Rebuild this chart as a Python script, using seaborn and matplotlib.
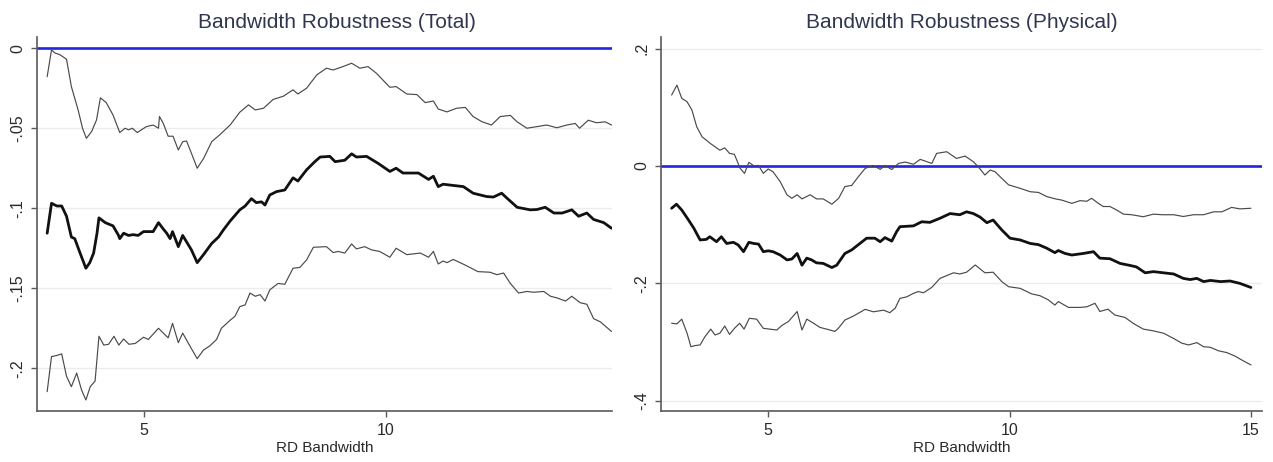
import matplotlib
matplotlib.use("Agg")
import matplotlib.pyplot as plt
import seaborn as sns
import pandas as pd

# ---------------- data ----------------
# Left panel: Total
tot_up_x = [3.0, 3.09, 3.16, 3.26, 3.4, 3.5, 3.64, 3.73, 3.81, 3.92, 4.02, 4.1, 4.22, 4.36, 4.5, 4.61, 4.68,
            4.76, 4.86, 5.05, 5.19, 5.3, 5.32, 5.4, 5.5, 5.6, 5.71, 5.8, 5.88, 5.98, 6.1, 6.23, 6.4, 6.57,
            6.78, 6.98, 7.16, 7.3, 7.47, 7.67, 7.88, 8.08, 8.18, 8.36, 8.57, 8.77, 8.91, 9.11, 9.29, 9.46,
            9.63, 9.8, 10.08, 10.21, 10.43, 10.64, 10.81, 10.98, 11.08, 11.26, 11.46, 11.64, 11.8, 11.98,
            12.18, 12.36, 12.57, 12.71, 12.91, 13.12, 13.32, 13.53, 13.74, 13.91, 14.0, 14.18, 14.35, 14.53,
            14.66]
tot_up_y = [-0.0178, -0.001, -0.003, -0.004, -0.0069, -0.024, -0.0386, -0.050, -0.0563, -0.052, -0.0448,
            -0.031, -0.034, -0.0417, -0.0527, -0.050, -0.051, -0.050, -0.0527, -0.049, -0.048, -0.050,
            -0.0427, -0.047, -0.055, -0.055, -0.0636, -0.0584, -0.058, -0.0656, -0.075, -0.069, -0.0584,
            -0.054, -0.048, -0.040, -0.0354, -0.0386, -0.0375, -0.032, -0.030, -0.026, -0.0286, -0.025,
            -0.0167, -0.0125, -0.0136, -0.0115, -0.0094, -0.0125, -0.0115, -0.0156, -0.0244, -0.024,
            -0.0286, -0.029, -0.034, -0.033, -0.038, -0.0398, -0.0375, -0.037, -0.0427, -0.0459, -0.048,
            -0.0427, -0.042, -0.046, -0.050, -0.049, -0.048, -0.0497, -0.048, -0.047, -0.050, -0.045,
            -0.0466, -0.046, -0.048]

tot_est_x = [3.0, 3.09, 3.2, 3.3, 3.4, 3.5, 3.57, 3.68, 3.8, 3.88, 3.96, 4.03, 4.07, 4.2, 4.36, 4.47, 4.5,
             4.58, 4.68, 4.78, 4.88, 4.99, 5.19, 5.3, 5.4, 5.47, 5.54, 5.59, 5.71, 5.8, 5.88, 5.98, 6.1,
             6.23, 6.4, 6.54, 6.64, 6.78, 6.98, 7.09, 7.22, 7.32, 7.43, 7.5, 7.6, 7.74, 7.91, 8.08, 8.18,
             8.36, 8.53, 8.64, 8.84, 8.95, 9.15, 9.29, 9.39, 9.6, 9.84, 10.08, 10.21, 10.35, 10.57, 10.67,
             10.88, 10.98, 11.08, 11.18, 11.32, 11.6, 11.8, 12.08, 12.22, 12.39, 12.5, 12.71, 12.98, 13.12,
             13.29, 13.47, 13.64, 13.84, 13.98, 14.15, 14.29, 14.5, 14.66]
tot_est_y = [-0.1156, -0.0969, -0.0986, -0.0986, -0.105, -0.118, -0.119, -0.128, -0.1375, -0.134, -0.128,
             -0.1156, -0.106, -0.109, -0.111, -0.1167, -0.119, -0.1156, -0.117, -0.1165, -0.117, -0.1146,
             -0.1146, -0.109, -0.113, -0.1156, -0.119, -0.1146, -0.124, -0.117, -0.121, -0.126, -0.134,
             -0.129, -0.122, -0.118, -0.1136, -0.108, -0.101, -0.0986, -0.094, -0.0965, -0.096, -0.098,
             -0.0917, -0.0896, -0.0886, -0.081, -0.083, -0.076, -0.0709, -0.068, -0.0676, -0.0709, -0.070,
             -0.066, -0.068, -0.0676, -0.072, -0.077, -0.075, -0.078, -0.078, -0.078, -0.082, -0.080,
             -0.0865, -0.085, -0.0855, -0.0865, -0.0906, -0.0927, -0.093, -0.0906, -0.0937, -0.0994,
             -0.101, -0.1008, -0.0994, -0.103, -0.103, -0.101, -0.105, -0.103, -0.107, -0.109, -0.1125]

tot_lo_x = [3.0, 3.09, 3.2, 3.3, 3.4, 3.5, 3.61, 3.71, 3.8, 3.89, 3.99, 4.07, 4.17, 4.27, 4.38, 4.48, 4.58,
            4.69, 4.82, 4.99, 5.09, 5.3, 5.5, 5.59, 5.71, 5.8, 5.91, 6.1, 6.23, 6.36, 6.5, 6.6, 6.78, 6.88,
            6.98, 7.09, 7.19, 7.3, 7.4, 7.5, 7.6, 7.77, 7.91, 8.08, 8.22, 8.36, 8.5, 8.77, 8.91, 9.01, 9.15,
            9.29, 9.39, 9.56, 9.7, 9.87, 10.08, 10.21, 10.43, 10.71, 10.88, 10.98, 11.08, 11.18, 11.26,
            11.39, 11.63, 11.9, 12.15, 12.29, 12.43, 12.57, 12.74, 12.91, 13.05, 13.26, 13.4, 13.53, 13.71,
            13.84, 14.01, 14.15, 14.29, 14.43, 14.66]
tot_lo_y = [-0.2146, -0.1927, -0.192, -0.191, -0.205, -0.2115, -0.203, -0.2135, -0.2198, -0.2115, -0.208,
            -0.180, -0.1855, -0.185, -0.180, -0.1855, -0.1817, -0.185, -0.1845, -0.1806, -0.182, -0.175,
            -0.181, -0.1719, -0.184, -0.178, -0.184, -0.194, -0.1886, -0.186, -0.182, -0.175, -0.170,
            -0.1675, -0.1615, -0.1604, -0.153, -0.155, -0.154, -0.158, -0.151, -0.147, -0.1475, -0.1375,
            -0.137, -0.1323, -0.1244, -0.124, -0.1277, -0.127, -0.128, -0.1223, -0.1254, -0.124, -0.126,
            -0.127, -0.1306, -0.125, -0.129, -0.128, -0.1306, -0.127, -0.1348, -0.133, -0.134, -0.132,
            -0.1354, -0.1396, -0.140, -0.1415, -0.1405, -0.147, -0.153, -0.152, -0.1525, -0.152, -0.155,
            -0.156, -0.158, -0.155, -0.159, -0.160, -0.169, -0.171, -0.177]

# Right panel: Physical
phy_up_x = [3.0, 3.11, 3.21, 3.32, 3.42, 3.52, 3.63, 3.8, 4.0, 4.1, 4.2, 4.3, 4.42, 4.51, 4.6, 4.7, 4.8,
            4.9, 5.0, 5.1, 5.25, 5.39, 5.49, 5.6, 5.7, 5.87, 6.0, 6.14, 6.32, 6.46, 6.59, 6.73, 6.87, 7.01,
            7.18, 7.32, 7.42, 7.56, 7.7, 7.84, 8.01, 8.15, 8.39, 8.49, 8.7, 8.9, 9.08, 9.25, 9.35, 9.49,
            9.6, 9.7, 9.84, 9.98, 10.22, 10.43, 10.6, 10.77, 10.95, 11.08, 11.29, 11.46, 11.6, 11.7, 11.84,
            11.94, 12.08, 12.22, 12.36, 12.53, 12.77, 12.98, 13.16, 13.4, 13.6, 13.81, 14.02, 14.23, 14.4,
            14.6, 14.77, 15.0]
phy_up_y = [0.121, 0.138, 0.1154, 0.1096, 0.0955, 0.067, 0.050, 0.0386, 0.027, 0.031, 0.0216, 0.020,
            -0.004, -0.0125, 0.0063, 0.0006, 0.001, -0.0125, -0.005, -0.0097, -0.0267, -0.049, -0.055,
            -0.049, -0.056, -0.049, -0.056, -0.056, -0.065, -0.055, -0.035, -0.033, -0.018, -0.004, 0.001,
            -0.0057, 0.001, -0.006, 0.0045, 0.0068, 0.003, 0.0114, 0.0045, 0.0216, 0.0244, 0.013, 0.017,
            0.0074, -0.001, -0.0153, -0.0068, -0.0097, -0.021, -0.032, -0.038, -0.0438, -0.045, -0.052,
            -0.056, -0.058, -0.0636, -0.059, -0.060, -0.055, -0.0636, -0.069, -0.069, -0.075, -0.082,
            -0.083, -0.0864, -0.082, -0.083, -0.083, -0.086, -0.083, -0.083, -0.078, -0.078, -0.0705,
            -0.073, -0.072]

phy_est_x = [3.0, 3.1, 3.21, 3.35, 3.46, 3.59, 3.72, 3.79, 3.93, 4.03, 4.14, 4.28, 4.38, 4.49, 4.6, 4.7,
             4.8, 4.9, 5.0, 5.1, 5.25, 5.39, 5.49, 5.6, 5.7, 5.8, 5.9, 6.0, 6.14, 6.32, 6.42, 6.59, 6.73,
             6.9, 7.04, 7.21, 7.32, 7.42, 7.56, 7.66, 7.73, 8.01, 8.18, 8.35, 8.56, 8.77, 8.97, 9.11, 9.25,
             9.39, 9.53, 9.66, 9.84, 10.01, 10.22, 10.43, 10.6, 10.77, 10.94, 11.01, 11.15, 11.29, 11.53,
             11.74, 11.87, 12.08, 12.29, 12.5, 12.63, 12.81, 12.98, 13.19, 13.4, 13.6, 13.74, 13.88, 14.02,
             14.16, 14.37, 14.57, 14.77, 15.0]
phy_est_y = [-0.072, -0.065, -0.075, -0.092, -0.106, -0.126, -0.125, -0.1205, -0.129, -0.1205, -0.132,
             -0.130, -0.1346, -0.146, -0.130, -0.132, -0.133, -0.146, -0.1445, -0.146, -0.1517, -0.160,
             -0.1585, -0.149, -0.169, -0.157, -0.160, -0.165, -0.166, -0.173, -0.169, -0.149, -0.143,
             -0.132, -0.123, -0.123, -0.129, -0.122, -0.128, -0.112, -0.1034, -0.102, -0.095, -0.096,
             -0.089, -0.081, -0.083, -0.078, -0.081, -0.087, -0.0966, -0.092, -0.109, -0.123, -0.126,
             -0.132, -0.134, -0.140, -0.1477, -0.144, -0.149, -0.1517, -0.149, -0.146, -0.157, -0.158,
             -0.166, -0.1695, -0.172, -0.182, -0.180, -0.182, -0.184, -0.1915, -0.1935, -0.1915, -0.197,
             -0.195, -0.197, -0.196, -0.200, -0.207]

phy_lo_x = [3.0, 3.11, 3.21, 3.32, 3.4, 3.49, 3.59, 3.69, 3.81, 3.9, 4.0, 4.1, 4.2, 4.31, 4.41, 4.5, 4.61,
            4.76, 4.9, 5.18, 5.28, 5.42, 5.6, 5.7, 5.8, 5.94, 6.07, 6.28, 6.38, 6.45, 6.59, 6.76, 7.01,
            7.18, 7.39, 7.52, 7.63, 7.73, 7.87, 8.01, 8.11, 8.22, 8.39, 8.56, 8.84, 8.97, 9.11, 9.29, 9.49,
            9.66, 9.84, 9.98, 10.22, 10.46, 10.63, 10.8, 10.94, 11.01, 11.22, 11.46, 11.6, 11.77, 11.87,
            12.04, 12.18, 12.39, 12.56, 12.77, 12.98, 13.19, 13.4, 13.57, 13.71, 13.88, 14.02, 14.16,
            14.33, 14.5, 14.67, 14.84, 15.0]
phy_lo_y = [-0.268, -0.269, -0.261, -0.285, -0.308, -0.306, -0.305, -0.291, -0.278, -0.288, -0.285,
            -0.2727, -0.287, -0.276, -0.268, -0.278, -0.2596, -0.261, -0.2767, -0.2795, -0.272, -0.265,
            -0.248, -0.2795, -0.261, -0.268, -0.275, -0.2795, -0.282, -0.277, -0.2625, -0.256, -0.2443,
            -0.2485, -0.2457, -0.250, -0.2425, -0.2256, -0.223, -0.217, -0.214, -0.216, -0.2068, -0.1915,
            -0.182, -0.184, -0.181, -0.1687, -0.182, -0.181, -0.197, -0.2057, -0.2085, -0.218, -0.221,
            -0.228, -0.237, -0.231, -0.241, -0.241, -0.240, -0.234, -0.248, -0.244, -0.254, -0.258,
            -0.268, -0.278, -0.281, -0.285, -0.294, -0.302, -0.305, -0.301, -0.308, -0.309, -0.315,
            -0.318, -0.324, -0.332, -0.339]

titles = ["Bandwidth Robustness (Total)", "Bandwidth Robustness (Physical)"]
x_label = "RD Bandwidth"
tot_yticks = [0, -0.05, -0.1, -0.15, -0.2]
tot_yticklabels = ["0", "-.05", "-.1", "-.15", "-.2"]
phy_yticks = [0.2, 0, -0.2, -0.4]
phy_yticklabels = [".2", "0", "-.2", "-.4"]
tot_xticks = [5, 10]
phy_xticks = [5, 10, 15]

# ---------------- styling ----------------
sns.set_theme(style="white")
plt.rcParams["font.family"] = ["Liberation Sans", "DejaVu Sans"]

fig = plt.figure(figsize=(12.73, 4.62), dpi=100)
ax1 = fig.add_axes([37 / 1273, 1 - 411 / 462, (612 - 37) / 1273, (411 - 37) / 462])
ax2 = fig.add_axes([661 / 1273, 1 - 411 / 462, (1262 - 661) / 1273, (411 - 37) / 462])

title_color = "#303650"
spine_color = "#5a5a5a"
thin_color = "#4a4a4a"
text_color = "#2a2a2a"


def draw(ax, up_x, up_y, est_x, est_y, lo_x, lo_y, xlim, ylim, yticks, yticklabels, xticks):
    for gy in yticks:
        ax.axhline(gy, color="#ececec", lw=1.0, zorder=0)
    ax.axhline(0, color="#2424e0", lw=1.9, zorder=1)
    df_up = pd.DataFrame({"bw": up_x, "v": up_y})
    df_est = pd.DataFrame({"bw": est_x, "v": est_y})
    df_lo = pd.DataFrame({"bw": lo_x, "v": lo_y})
    sns.lineplot(data=df_up, x="bw", y="v", ax=ax, color=thin_color, lw=0.85, estimator=None, zorder=3)
    sns.lineplot(data=df_lo, x="bw", y="v", ax=ax, color=thin_color, lw=0.85, estimator=None, zorder=3)
    sns.lineplot(data=df_est, x="bw", y="v", ax=ax, color="#111111", lw=2.0, estimator=None, zorder=4)
    ax.set_xlim(*xlim)
    ax.set_ylim(*ylim)
    ax.set_yticks(yticks)
    ax.set_yticklabels(yticklabels, rotation=90, va="center", fontsize=11.5, color=text_color)
    ax.set_xticks(xticks)
    ax.set_xticklabels([str(t) for t in xticks], fontsize=11.5, color=text_color)
    ax.set_xlabel(x_label, fontsize=11, color=text_color, labelpad=2)
    ax.set_ylabel("")
    for s in ["top", "right"]:
        ax.spines[s].set_visible(False)
    for s in ["left", "bottom"]:
        ax.spines[s].set_color(spine_color)
        ax.spines[s].set_linewidth(1.2)
    ax.tick_params(axis="both", which="major", direction="out", length=4.5, width=1.0,
                   color=spine_color, pad=4, left=True, bottom=True)
    ax.grid(False)


draw(ax1, tot_up_x, tot_up_y, tot_est_x, tot_est_y, tot_lo_x, tot_lo_y,
     (2.79, 14.67), (-0.2267, 0.007), tot_yticks, tot_yticklabels, tot_xticks)
draw(ax2, phy_up_x, phy_up_y, phy_est_x, phy_est_y, phy_lo_x, phy_lo_y,
     (2.78, 15.23), (-0.4176, 0.22), phy_yticks, phy_yticklabels, phy_xticks)

fig.text(337 / 1273, 1 - 22 / 462, titles[0], ha="center", va="center", fontsize=15, color=title_color)
fig.text(962 / 1273, 1 - 22 / 462, titles[1], ha="center", va="center", fontsize=15, color=title_color)

fig.savefig("out.png", dpi=100, facecolor="white")
